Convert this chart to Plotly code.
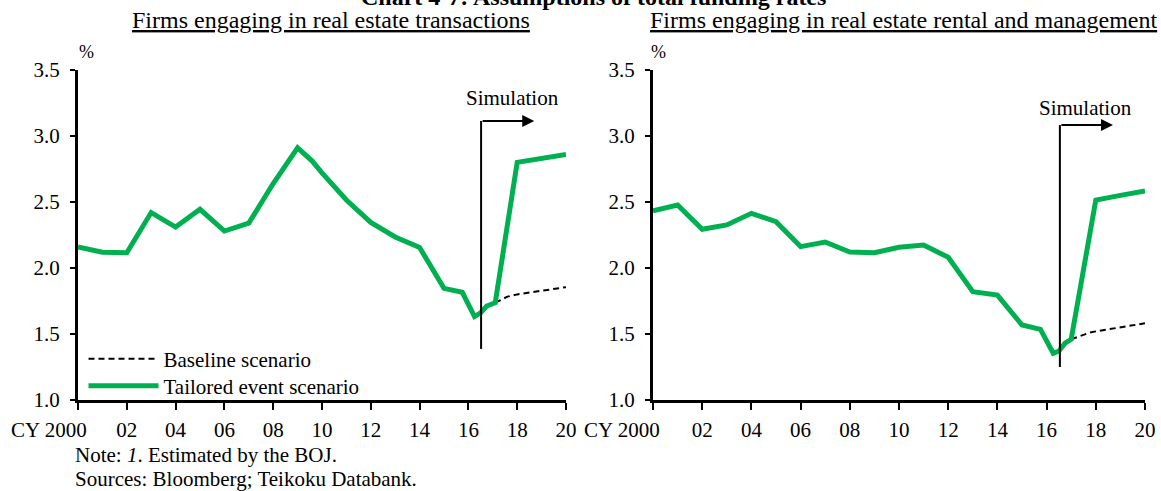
import plotly.graph_objects as go

W, H = 1161, 491
GREEN = "#00B050"
FONT = "Liberation Serif"

# ---------------- data ----------------
# Left: firms engaging in real estate transactions
left_tail_x = [2000, 2001, 2002, 2003, 2004, 2005, 2006, 2007, 2008, 2008.5, 2009, 2009.6,
               2010, 2011, 2012, 2013, 2014, 2015, 2015.75, 2016.25, 2016.5, 2016.75, 2017.1,
               2018, 2019, 2020]
left_tail_y = [2.16, 2.12, 2.115, 2.42, 2.31, 2.445, 2.28, 2.34, 2.64, 2.77, 2.91, 2.81,
               2.72, 2.515, 2.345, 2.235, 2.155, 1.846, 1.816, 1.632, 1.66, 1.712, 1.737,
               2.80, 2.83, 2.86]
left_base_x = [2017.1, 2017.6, 2018, 2018.5, 2019, 2019.5, 2020]
left_base_y = [1.737, 1.783, 1.80, 1.815, 1.83, 1.843, 1.855]

# Right: firms engaging in real estate rental and management
right_tail_x = [2000, 2001, 2002, 2003, 2004, 2005, 2006, 2007, 2008, 2009, 2010, 2011, 2012,
                2013, 2014, 2015, 2015.75, 2016, 2016.27, 2016.5, 2016.75, 2017, 2018, 2019, 2020]
right_tail_y = [2.434, 2.477, 2.293, 2.326, 2.414, 2.351, 2.162, 2.197, 2.121, 2.116, 2.157,
                2.174, 2.081, 1.821, 1.795, 1.568, 1.535, 1.442, 1.354, 1.371, 1.43, 1.46,
                2.515, 2.55, 2.583]
right_base_x = [2017, 2017.75, 2018, 2019, 2020]
right_base_y = [1.46, 1.51, 1.52, 1.55, 1.581]

x_tickvals = list(range(2000, 2021, 2))
x_ticktext = ["", "02", "04", "06", "08", "10", "12", "14", "16", "18", "20"]
y_tickvals = [1.0, 1.5, 2.0, 2.5, 3.0, 3.5]

sim_start = [2016.52, 2016.54]
sim_top = [3.114, 3.083]
sim_bottom = [1.387, 1.25]
sim_arrow_end = 2018.7

titles = ["Firms engaging in real estate transactions",
          "Firms engaging in real estate rental and management"]
series_names = ["Baseline scenario", "Tailored event scenario"]

# ---------------- figure ----------------
def px_x(p):
    return p / W

def px_y(p):
    return 1 - p / H

fig = go.Figure()

fig.add_trace(go.Scatter(x=left_base_x, y=left_base_y, mode="lines", name=series_names[0],
                         line=dict(color="black", width=2, dash="6px,4px"),
                         xaxis="x", yaxis="y", legend="legend", showlegend=True))
fig.add_trace(go.Scatter(x=left_tail_x, y=left_tail_y, mode="lines", name=series_names[1],
                         line=dict(color=GREEN, width=5), xaxis="x", yaxis="y",
                         legend="legend2", showlegend=True))
fig.add_trace(go.Scatter(x=right_base_x, y=right_base_y, mode="lines", showlegend=False,
                         line=dict(color="black", width=2, dash="6px,4px"),
                         xaxis="x2", yaxis="y2"))
fig.add_trace(go.Scatter(x=right_tail_x, y=right_tail_y, mode="lines", showlegend=False,
                         line=dict(color=GREEN, width=5), xaxis="x2", yaxis="y2"))

xax = dict(range=[2000, 2020], tickvals=x_tickvals, ticktext=x_ticktext, showgrid=False,
           zeroline=False, showline=True, linecolor="black", linewidth=3, ticks="outside",
           ticklen=7, tickwidth=2, tickcolor="black", tickfont=dict(size=21, color="black"),
           ticklabelstandoff=2, automargin=False)
yax = dict(range=[1, 3.5], tickvals=y_tickvals, tickformat=".1f", showgrid=False,
           zeroline=False, showline=True, linecolor="black", linewidth=3, ticks="outside",
           ticklen=5, tickwidth=2, tickcolor="black", tickfont=dict(size=21, color="black"),
           ticklabelstandoff=6, automargin=False)

leg = dict(xanchor="left", yanchor="middle", bgcolor="rgba(0,0,0,0)",
           font=dict(size=21), itemwidth=70, tracegroupgap=0)
ydom = [px_y(400), px_y(70)]
fig.update_layout(
    width=W, height=H,
    margin=dict(l=0, r=0, t=0, b=0, autoexpand=False),
    paper_bgcolor="white", plot_bgcolor="white",
    font=dict(family=FONT, size=21, color="black"),
    xaxis=dict(domain=[px_x(78), px_x(566)], anchor="y", **xax),
    yaxis=dict(domain=ydom, anchor="x", **yax),
    xaxis2=dict(domain=[px_x(653), px_x(1145)], anchor="y2", **xax),
    yaxis2=dict(domain=ydom, anchor="x2", **yax),
    legend=dict(x=px_x(83.5), y=px_y(359), **leg),
    legend2=dict(x=px_x(83.5), y=px_y(386), **leg),
    showlegend=True,
)

ann = []
# main title (cut off at the top in the original)
ann.append(dict(text="<b>Chart 4-7: Assumptions of total funding rates</b>", xref="paper", yref="paper",
                x=px_x(593), y=px_y(-3.5), xanchor="center", yanchor="middle",
                showarrow=False, font=dict(size=24)))
# panel titles
for cx, t in zip([331, 903], titles):
    ann.append(dict(text="<u>" + t + "</u>", xref="paper", yref="paper", x=px_x(cx), y=px_y(20),
                    xanchor="center", yanchor="middle", showarrow=False, font=dict(size=24)))
# % labels
for cx in [86, 658]:
    ann.append(dict(text="%", xref="paper", yref="paper", x=px_x(cx), y=px_y(52),
                    xanchor="center", yanchor="middle", showarrow=False, font=dict(size=18)))
# CY 2000 labels
for xr, sh in [("x", 11), ("x2", 9)]:
    ann.append(dict(text="CY 2000", xref=xr, yref="paper", x=2000, y=px_y(430), xshift=sh,
                    xanchor="right", yanchor="middle", showarrow=False, font=dict(size=21)))
# Simulation labels and arrows
for i, (xr, yr) in enumerate([("x", "y"), ("x2", "y2")]):
    ann.append(dict(text="Simulation", xref=xr, yref=yr, x=[2017.79, 2017.6][i],
                    y=[3.286, 3.215][i], xanchor="center", yanchor="middle", showarrow=False,
                    font=dict(size=21)))
    ann.append(dict(text="", xref=xr, yref=yr, x=sim_arrow_end, y=sim_top[i],
                    axref=xr, ayref=yr, ax=sim_start[i], ay=sim_top[i], showarrow=True,
                    arrowhead=2, arrowsize=1.2, arrowwidth=2, arrowcolor="black", standoff=0))
    fig.add_shape(type="line", xref=xr, yref=yr, x0=sim_start[i], x1=sim_start[i],
                  y0=sim_bottom[i], y1=sim_top[i], line=dict(color="black", width=2))
# notes
ann.append(dict(text="Note: <i>1</i>. Estimated by the BOJ.", xref="paper", yref="paper",
                x=px_x(73), y=px_y(455), xanchor="left", yanchor="middle", showarrow=False,
                font=dict(size=21)))
ann.append(dict(text="Sources: Bloomberg; Teikoku Databank.", xref="paper", yref="paper",
                x=px_x(73), y=px_y(479), xanchor="left", yanchor="middle", showarrow=False,
                font=dict(size=21)))
fig.update_layout(annotations=ann)

post = ("document.documentElement.style.margin='0';document.body.style.margin='0';"
        "document.body.style.overflow='hidden';document.documentElement.style.overflow='hidden';"
        "var gd=document.getElementById('{plot_id}');gd.style.position='fixed';"
        "gd.style.top='0px';gd.style.left='0px';")
fig.write_html("out.html", post_script=post, config=dict(displayModeBar=False))
